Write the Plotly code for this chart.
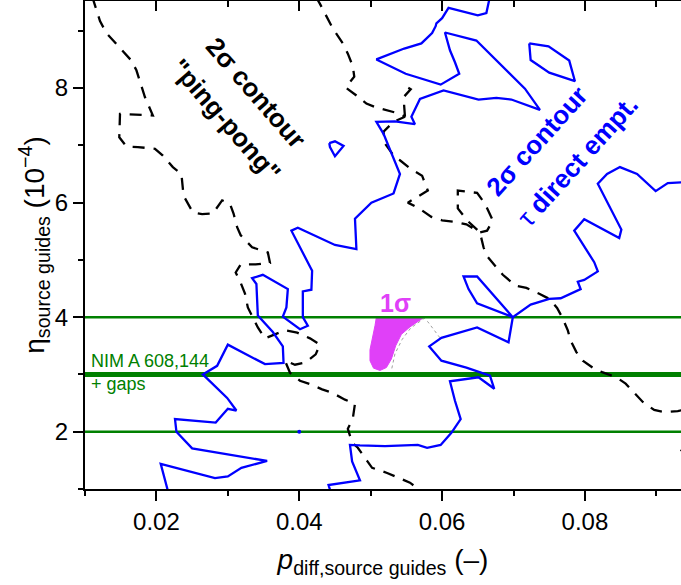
import plotly.graph_objects as go

# ---------------- data ----------------
# blue solid 2-sigma contour, "tau direct emptying" (main branch)
blue_a_x = [0.0216, 0.0206, 0.0282, 0.0300, 0.0319, 0.0355, 0.0250, 0.0228, 0.0226, 0.0283,
            0.0300, 0.0312, 0.0299, 0.0265, 0.0285, 0.0300, 0.0352, 0.0378, 0.0377, 0.0363,
            0.0342, 0.0340, 0.0334, 0.0349, 0.0384, 0.0382, 0.0377, 0.0401, 0.0412, 0.0405,
            0.0405, 0.0417, 0.0418, 0.0403, 0.0389, 0.0398, 0.0450, 0.0480, 0.0478, 0.0501,
            0.0532, 0.0541, 0.0529, 0.0518, 0.0508, 0.0534, 0.0562, 0.0557, 0.0569, 0.0602,
            0.0651, 0.0676, 0.0697, 0.0737, 0.0716, 0.0648, 0.0604, 0.0611, 0.0618, 0.0624,
            0.0598, 0.0549, 0.0508, 0.0547, 0.0571, 0.0586, 0.0591, 0.0592, 0.0600, 0.0609,
            0.0650, 0.0662, 0.0667]
blue_a_y = [0.97, 1.44, 1.19, 1.22, 1.37, 1.49, 1.71, 2.00, 2.22, 2.16,
            2.40, 2.37, 2.59, 3.00, 3.15, 3.52, 3.18, 3.20, 3.49, 3.74,
            4.03, 4.58, 4.68, 4.74, 4.49, 4.17, 4.01, 3.79, 3.85, 4.00,
            4.45, 4.48, 4.81, 5.16, 5.51, 5.56, 5.26, 5.19, 5.72, 6.00,
            6.16, 6.50, 6.85, 7.20, 7.41, 7.42, 7.37, 7.50, 7.81, 7.96,
            7.80, 7.83, 7.80, 7.62, 7.99, 8.83, 8.97, 8.66, 8.45, 8.25,
            8.06, 8.25, 8.50, 8.69, 8.78, 8.96, 9.08, 9.13, 9.22, 9.40,
            9.27, 9.31, 9.60]

# blue solid contour, right branch
blue_b_x = [0.0444, 0.0441, 0.0485, 0.0474, 0.0471, 0.0485, 0.0520, 0.0534, 0.0566, 0.0579,
            0.0598, 0.0613, 0.0626, 0.0618, 0.0611, 0.0651, 0.0673, 0.0667, 0.0634, 0.0599,
            0.0582, 0.0599, 0.0649, 0.0693, 0.0699, 0.0649, 0.0637, 0.0630, 0.0649, 0.0699,
            0.0724, 0.0750, 0.0766, 0.0794, 0.0790, 0.0799, 0.0818, 0.0813, 0.0785, 0.0799,
            0.0848, 0.0851, 0.0818, 0.0831, 0.0849, 0.0873, 0.0899, 0.0916, 0.0935, 0.0960]
blue_b_y = [0.95, 1.07, 1.15, 1.48, 1.77, 1.76, 1.75, 1.76, 1.77, 1.72,
            1.77, 1.98, 2.22, 2.54, 2.88, 2.95, 2.75, 2.98, 3.12, 3.24,
            3.49, 3.64, 3.82, 3.56, 4.00, 4.24, 4.49, 4.71, 4.71, 4.00,
            4.22, 4.32, 4.33, 4.49, 4.62, 4.65, 4.80, 4.96, 5.51, 5.71,
            5.38, 5.53, 6.33, 6.50, 6.62, 6.50, 6.20, 6.34, 6.36, 6.37]

# small closed blue islands
blue_c_x = [0.0722, 0.0749, 0.0778, 0.0786, 0.0750, 0.0724, 0.0722]
blue_c_y = [8.78, 8.73, 8.48, 8.12, 8.27, 8.49, 8.78]
blue_d_x = [0.0442, 0.0450, 0.0462, 0.0450, 0.0443, 0.0442]
blue_d_y = [7.04, 7.07, 6.99, 6.81, 6.97, 7.04]
blue_dot_x = [0.040]
blue_dot_y = [2.0]

# black dashed 2-sigma contour, "ping-pong" (left branch)
black_a_x = [0.0110, 0.0121, 0.0130, 0.0165, 0.0172, 0.0177, 0.0184, 0.0195, 0.0149, 0.0148,
             0.0158, 0.0174, 0.0198, 0.0209, 0.0223, 0.0235, 0.0238, 0.0251, 0.0264, 0.0279,
             0.0292, 0.0303, 0.0308, 0.0313, 0.0318, 0.0334, 0.0356, 0.0359, 0.0339, 0.0318,
             0.0311, 0.0318, 0.0324, 0.0328, 0.0335, 0.0342, 0.0352, 0.0367, 0.0380, 0.0397,
             0.0415, 0.0429, 0.0423, 0.0409, 0.0394, 0.0380, 0.0387, 0.0401, 0.0415, 0.0432,
             0.0446, 0.0464, 0.0478, 0.0475, 0.0468, 0.0474, 0.0482, 0.0495, 0.0502, 0.0523,
             0.0537, 0.0555, 0.0572]
black_a_y = [9.60, 9.17, 8.96, 8.48, 8.31, 8.10, 7.84, 7.52, 7.55, 7.14,
             6.98, 6.97, 6.94, 6.82, 6.62, 6.50, 6.12, 5.83, 5.80, 5.81,
             6.04, 5.98, 5.81, 5.57, 5.43, 5.22, 5.13, 4.95, 4.92, 4.92,
             4.78, 4.60, 4.41, 4.17, 3.99, 3.82, 3.63, 3.71, 3.77, 3.73,
             3.63, 3.52, 3.35, 3.21, 3.17, 3.24, 3.03, 2.89, 2.83, 2.74,
             2.68, 2.56, 2.49, 2.23, 2.05, 1.81, 1.72, 1.49, 1.37, 1.28,
             1.21, 1.11, 0.95]

# black dashed contour (right branch)
black_b_x = [0.0423, 0.0429, 0.0447, 0.0461, 0.0468, 0.0475, 0.0477, 0.0465, 0.0480, 0.0494,
             0.0506, 0.0525, 0.0541, 0.0548, 0.0532, 0.0518, 0.0520, 0.0534, 0.0541, 0.0557,
             0.0572, 0.0580, 0.0552, 0.0569, 0.0585, 0.0600, 0.0620, 0.0634, 0.0653, 0.0663,
             0.0671, 0.0660, 0.0649, 0.0622, 0.0622, 0.0635, 0.0653, 0.0658, 0.0662, 0.0676,
             0.0685, 0.0703, 0.0718, 0.0736, 0.0750, 0.0761, 0.0768, 0.0776, 0.0780, 0.0788,
             0.0797, 0.0813, 0.0824, 0.0844, 0.0857, 0.0869, 0.0881, 0.0897, 0.0911, 0.0930,
             0.0950]
black_b_y = [9.60, 9.47, 9.04, 8.78, 8.60, 8.38, 8.20, 8.01, 7.87, 7.73,
             7.67, 7.61, 7.55, 7.50, 7.41, 7.24, 7.03, 6.79, 6.74, 6.58,
             6.47, 6.21, 6.00, 5.89, 5.75, 5.69, 5.66, 5.62, 5.48, 5.51,
             5.69, 5.98, 6.17, 6.21, 5.90, 5.69, 5.48, 5.22, 5.08, 4.87,
             4.74, 4.55, 4.51, 4.41, 4.32, 4.16, 4.00, 3.77, 3.59, 3.39,
             3.24, 3.10, 3.04, 2.95, 2.84, 2.68, 2.52, 2.38, 2.34, 2.36,
             2.42]
black_c_x = [0.0548, 0.0547, 0.0546, 0.0556, 0.0542]
black_c_y = [7.50, 7.64, 7.84, 7.98, 8.08]
black_d_x = [0.0945, 0.0933, 0.0945]
black_d_y = [1.82, 1.64, 1.44]

# 1-sigma region (filled) and its dotted outline
sigma1_x = [0.0508, 0.0538, 0.0575, 0.0555, 0.0543, 0.0535, 0.0529, 0.0522, 0.0513, 0.0504,
            0.0499, 0.0499, 0.0503, 0.0506, 0.0508]
sigma1_y = [4.00, 4.00, 4.00, 3.83, 3.70, 3.50, 3.27, 3.12, 3.07, 3.11,
            3.24, 3.43, 3.65, 3.85, 4.00]
dotted_x = [0.0597, 0.0580, 0.0575, 0.0556, 0.0544, 0.0534, 0.0529]
dotted_y = [3.64, 3.92, 3.98, 3.81, 3.61, 3.36, 3.07]

# NIM A 608,144 levels
nim_levels = [4.0, 3.0, 2.0]
nim_widths = [2.5, 5.0, 2.5]

x_range = [0.01, 0.09345]
y_range = [1.0, 9.52]
x_tickvals = [0.02, 0.04, 0.06, 0.08]
x_ticktext = ["0.02", "0.04", "0.06", "0.08"]
y_tickvals = [2, 4, 6, 8]
y_ticktext = ["2", "4", "6", "8"]

FONT = "Liberation Sans, Arial, sans-serif"
BLUE = "#0000ff"
GREEN = "#008000"
MAGENTA = "#e040f8"

fig = go.Figure()

# 1 sigma fill
fig.add_trace(go.Scatter(x=sigma1_x, y=sigma1_y, mode="lines", fill="toself",
                         fillcolor=MAGENTA, line=dict(color=MAGENTA, width=1),
                         hoverinfo="skip", showlegend=False))
fig.add_trace(go.Scatter(x=dotted_x, y=dotted_y, mode="lines",
                         line=dict(color="#a0a0a0", width=1, dash="dot"),
                         hoverinfo="skip", showlegend=False))

# green horizontal levels
for lvl, w in zip(nim_levels, nim_widths):
    fig.add_trace(go.Scatter(x=[x_range[0], x_range[1]], y=[lvl, lvl], mode="lines",
                             line=dict(color=GREEN, width=w),
                             hoverinfo="skip", showlegend=False))

# black dashed contours
for xs, ys in [(black_a_x, black_a_y), (black_b_x, black_b_y),
               (black_c_x, black_c_y), (black_d_x, black_d_y)]:
    fig.add_trace(go.Scatter(x=xs, y=ys, mode="lines",
                             line=dict(color="black", width=2.3, dash="12px,9px"),
                             hoverinfo="skip", showlegend=False))

# blue solid contours
for xs, ys in [(blue_a_x, blue_a_y), (blue_b_x, blue_b_y),
               (blue_c_x, blue_c_y), (blue_d_x, blue_d_y)]:
    fig.add_trace(go.Scatter(x=xs, y=ys, mode="lines",
                             line=dict(color=BLUE, width=2.3),
                             hoverinfo="skip", showlegend=False))
fig.add_trace(go.Scatter(x=blue_dot_x, y=blue_dot_y, mode="markers",
                         marker=dict(color=BLUE, size=4),
                         hoverinfo="skip", showlegend=False))

# invisible trace to activate the top axis
fig.add_trace(go.Scatter(x=[x_range[0]], y=[y_range[0]], xaxis="x2", mode="markers",
                         marker=dict(opacity=0), hoverinfo="skip", showlegend=False))

# annotations
ann = [
    dict(x=0.03398, y=7.92, text="<b>2σ contour</b>", textangle=49, color="black", size=26),
    dict(x=0.02971, y=7.44, text="<b>\"ping-pong\"</b>", textangle=49, color="black", size=26),
    dict(x=0.07328, y=7.07, text="<b>2σ contour</b>", textangle=-48, color=BLUE, size=26),
    dict(x=0.07897, y=6.73, text="τ<b> direct empt.</b>", textangle=-48, color=BLUE, size=26),
    dict(x=0.05353, y=4.25, text="<b>1σ</b>", textangle=0, color=MAGENTA, size=25),
]
for a in ann:
    fig.add_annotation(x=a["x"], y=a["y"], xref="x", yref="y", text=a["text"],
                       textangle=a["textangle"], showarrow=False,
                       xanchor="center", yanchor="middle",
                       font=dict(family=FONT, size=a["size"], color=a["color"]))
fig.add_annotation(x=0.0105, y=3.24, xref="x", yref="y", text="NIM A 608,144",
                   showarrow=False, xanchor="left", yanchor="middle",
                   font=dict(family=FONT, size=18, color=GREEN))
fig.add_annotation(x=0.0105, y=2.83, xref="x", yref="y", text="+ gaps",
                   showarrow=False, xanchor="left", yanchor="middle",
                   font=dict(family=FONT, size=18, color=GREEN))

axis_common = dict(showgrid=False, zeroline=False, showline=True, linecolor="black",
                   linewidth=2, tickcolor="black", tickwidth=2)

fig.update_layout(
    width=681, height=585,
    margin=dict(l=85, r=0, t=1, b=96),
    paper_bgcolor="white", plot_bgcolor="white",
    hovermode=False,
    font=dict(family=FONT, color="black"),
    xaxis=dict(range=x_range, tickmode="array", tickvals=x_tickvals, ticktext=x_ticktext,
               ticks="outside", ticklen=10,
               minor=dict(tickvals=[0.01, 0.03, 0.05, 0.07, 0.09], ticks="outside",
                          ticklen=5, tickwidth=2, tickcolor="black"),
               tickfont=dict(size=24, family=FONT, color="black"),
               title=dict(text="<i>p</i><sub>diff,source guides</sub> (–)",
                          font=dict(size=28, family=FONT, color="black"), standoff=16),
               **axis_common),
    xaxis2=dict(range=x_range, overlaying="x", side="top", tickmode="array",
                tickvals=x_tickvals, showticklabels=False, ticks="inside", ticklen=10,
                minor=dict(tickvals=[0.01, 0.03, 0.05, 0.07, 0.09], ticks="inside",
                           ticklen=6, tickwidth=2, tickcolor="black"),
                **axis_common),
    yaxis=dict(range=y_range, tickmode="array", tickvals=y_tickvals, ticktext=y_ticktext,
               ticks="outside", ticklen=10,
               minor=dict(tickvals=[1, 3, 5, 7, 9], ticks="outside",
                          ticklen=5, tickwidth=2, tickcolor="black"),
               tickfont=dict(size=24, family=FONT, color="black"),
               title=dict(text="η<sub>source guides</sub> (10<sup>−4</sup>)",
                          font=dict(size=28, family=FONT, color="black"), standoff=2),
               **axis_common),
)

fig.write_html("out.html", config={"displayModeBar": False})
